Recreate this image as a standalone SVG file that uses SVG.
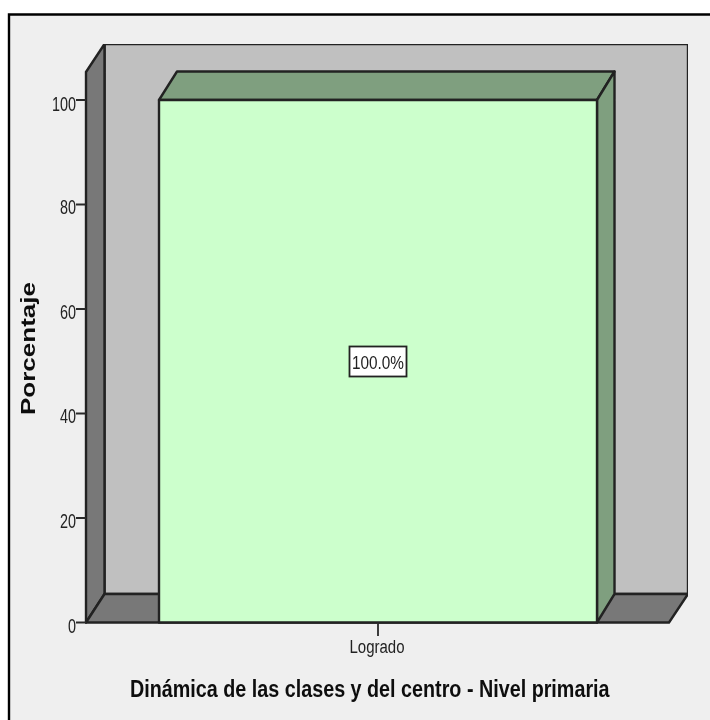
<svg xmlns="http://www.w3.org/2000/svg" width="710" height="720" viewBox="0 0 710 720">
<style>
.e{stroke:#222;stroke-width:2.4;stroke-linejoin:round}
.wall{fill:#c0c0c0}.dark{fill:#787878}.bar{fill:#ccffcc}.shade{fill:#7f9f7f}
.tick{stroke:#2a2a2a;stroke-width:1.8;fill:none}
text{font-family:"Liberation Sans",Arial,sans-serif;fill:#222}
.n{font-size:20px;text-anchor:end}
.b{font-weight:bold;fill:#111}
</style>
<defs><filter id="soft" x="0" y="0" width="100%" height="100%"><feGaussianBlur stdDeviation="0.35"/></filter></defs>
<rect width="710" height="720" fill="#fff"/>
<path d="M9 720V14.500H710V720Z" fill="#efefef"/>
<path d="M9 720V14.500H710" fill="none" stroke="#000" stroke-width="2.400"/>
<g filter="url(#soft)">
<g id="chart-frame">
<polygon class="e wall" points="104.500,44 688,44 688,594 104.500,594"/>
<polygon class="e dark" points="86,72 104.500,44 104.500,594 86,622.500"/>
<polygon class="e dark" points="86,622.500 104.500,594 688,594 669,622.500"/>
</g>
<g id="bar">
<polygon class="e shade" points="159,100 177,71.500 614.500,71.500 597,100"/>
<polygon class="e shade" points="597,100 614.500,71.500 614.500,594 597,622.500"/>
<rect class="e bar" x="159" y="100" width="438" height="522.500"/>
</g>
<g id="axis">
<path class="tick" d="M76 100H86M76 204.500H86M76 309H86M76 413.500H86M76 518H86M76 622.500H86M378 622.500V636"/>
<text class="n" x="76" y="111" textLength="24" lengthAdjust="spacingAndGlyphs">100</text>
<text class="n" x="76" y="214" textLength="16" lengthAdjust="spacingAndGlyphs">80</text>
<text class="n" x="76" y="319" textLength="16" lengthAdjust="spacingAndGlyphs">60</text>
<text class="n" x="76" y="423" textLength="16" lengthAdjust="spacingAndGlyphs">40</text>
<text class="n" x="76" y="528" textLength="16" lengthAdjust="spacingAndGlyphs">20</text>
<text class="n" x="76" y="633" textLength="8" lengthAdjust="spacingAndGlyphs">0</text>
<text x="349.500" y="653" font-size="18" textLength="55" lengthAdjust="spacingAndGlyphs">Logrado</text>
</g>
<g id="value-label">
<rect x="349.500" y="346.500" width="57" height="30" fill="#fff" stroke="#222" stroke-width="1.800"/>
<text x="352" y="369" font-size="19" textLength="52" lengthAdjust="spacingAndGlyphs">100.0%</text>
</g>
<g id="titles">
<text class="b" transform="translate(130 697) scale(.823 1)" font-size="24">Dinámica de las clases y del centro - Nivel primaria</text>
<text class="b" transform="translate(35 415) rotate(-90)" font-size="21" textLength="133" lengthAdjust="spacingAndGlyphs">Porcentaje</text>
</g>
</g>
</svg>
